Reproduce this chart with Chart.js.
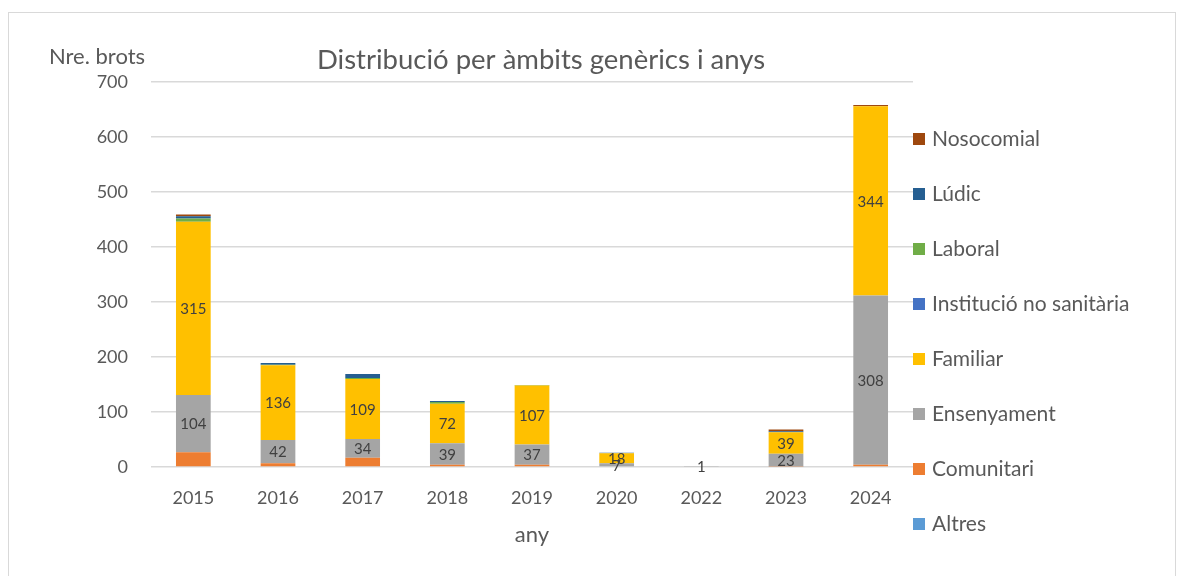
<!DOCTYPE html>
<html>
<head>
<meta charset="utf-8">
<script src="https://cdn.jsdelivr.net/npm/chart.js@4"></script>
<style>
  html, body { margin: 0; padding: 0; background: #fff; }
  #wrap { position: relative; width: 1187px; height: 576px; overflow: hidden; }
  #frame { position: absolute; left: 8px; top: 12px; width: 1166px; height: 600px; border: 1px solid #d9d9d9; }
  canvas { position: absolute; left: 0; top: 0; }
  #legend { position: absolute; left: 913px; top: 0; font-family: Lato, sans-serif; font-size: 21px; color: #595959; }
  .item { position: absolute; left: 0; white-space: nowrap; height: 24px; line-height: 24px; }
  .box { display: inline-block; width: 12px; height: 12px; margin-right: 7px; vertical-align: 1px; }
</style>
</head>
<body>
<div id="wrap">
  <div id="frame"></div>
  <canvas id="chart" width="1187" height="576"></canvas>
  <div id="legend"></div>
</div>
<script>
// Categories (years)
const years = ['2015', '2016', '2017', '2018', '2019', '2020', '2022', '2023', '2024'];

// Series values, bottom of the stack first
const altres      = [0, 0, 0, 0, 0, 0, 0, 0, 0];
const comunitari  = [27, 7, 17, 4, 4, 0, 0, 1, 4];
const ensenyament = [104, 42, 34, 39, 37, 7, 1, 23, 308];
const familiar    = [315, 136, 109, 72, 107, 18, 0, 39, 344];
const institucio  = [0, 0, 0, 0, 0, 0, 0, 0, 0];
const laboral     = [6, 1, 2, 3, 1, 0, 0, 0, 0];
const ludic       = [4, 3, 7, 2, 0, 1, 0, 2, 0];
const nosocomial  = [3, 0, 0, 0, 0, 0, 0, 3, 2];

// Y axis ticks
const yTicks = [0, 100, 200, 300, 400, 500, 600, 700];

const series = [
    { label: 'Altres', data: altres, color: '#5B9BD5' },
    { label: 'Comunitari', data: comunitari, color: '#ED7D31' },
    { label: 'Ensenyament', data: ensenyament, color: '#A5A5A5', labels: true },
    { label: 'Familiar', data: familiar, color: '#FFC000', labels: true },
    { label: 'Institució no sanitària', data: institucio, color: '#4472C4' },
    { label: 'Laboral', data: laboral, color: '#70AD47' },
    { label: 'Lúdic', data: ludic, color: '#255E91' },
    { label: 'Nosocomial', data: nosocomial, color: '#9E480E' }
];

const FONT = 'Lato, sans-serif';
const TEXT = '#595959';

// Draws the value labels in the middle of the bars plus the free text
const extrasPlugin = {
    id: 'extras',
    afterDatasetsDraw(chart) {
        const ctx = chart.ctx;
        ctx.save();
        ctx.textAlign = 'center';
        ctx.textBaseline = 'middle';
        ctx.font = '15px ' + FONT;
        ctx.fillStyle = '#404040';
        chart.data.datasets.forEach((ds, i) => {
            if (!series[i].labels) return;
            chart.getDatasetMeta(i).data.forEach((bar, j) => {
                const v = ds.data[j];
                if (!v) return;
                ctx.fillText(String(v), bar.x, (bar.y + bar.base) / 2 + 1);
            });
        });
        ctx.restore();
    },
    afterDraw(chart) {
        const ctx = chart.ctx;
        const area = chart.chartArea;
        ctx.save();
        ctx.fillStyle = TEXT;
        ctx.textBaseline = 'middle';
        ctx.textAlign = 'center';
        ctx.font = '27.5px ' + FONT;
        ctx.fillText('Distribució per àmbits genèrics i anys', 541, 60);
        ctx.font = '22px ' + FONT;
        ctx.fillText('Nre. brots', 97, 57);
        ctx.fillText('any', (area.left + area.right) / 2, 535);
        ctx.restore();
    }
};

const chart = new Chart(document.getElementById('chart'), {
    type: 'bar',
    data: {
        labels: years,
        datasets: series.map(s => ({
            label: s.label,
            data: s.data,
            backgroundColor: s.color,
            borderWidth: 0,
            categoryPercentage: 1,
            barPercentage: 0.41
        }))
    },
    options: {
        responsive: false,
        animation: false,
        layout: { padding: { left: 0, right: 274, top: 82, bottom: 0 } },
        plugins: {
            legend: { display: false },
            tooltip: { enabled: false }
        },
        scales: {
            x: {
                stacked: true,
                grid: { display: false, drawTicks: false },
                border: { display: false },
                ticks: { color: TEXT, font: { family: FONT, size: 18 }, padding: 20 },
                afterFit(s) { s.height = 109; }
            },
            y: {
                stacked: true,
                min: 0,
                max: 700,
                afterBuildTicks(s) { s.ticks = yTicks.map(v => ({ value: v })); },
                grid: { color: '#d9d9d9', lineWidth: 1.5, drawTicks: false },
                border: { display: false },
                ticks: { color: TEXT, font: { family: FONT, size: 18 }, padding: 23 },
                afterFit(s) { s.width = 151; }
            }
        }
    },
    plugins: [extrasPlugin]
});

// Legend, top entry = last series
const legend = document.getElementById('legend');
series.slice().reverse().forEach((s, i) => {
    const el = document.createElement('div');
    el.className = 'item';
    el.style.top = (138 + 55 * i - 12) + 'px';
    el.innerHTML = '<span class="box" style="background:' + s.color + '"></span>' + s.label;
    legend.appendChild(el);
});
</script>
</body>
</html>
